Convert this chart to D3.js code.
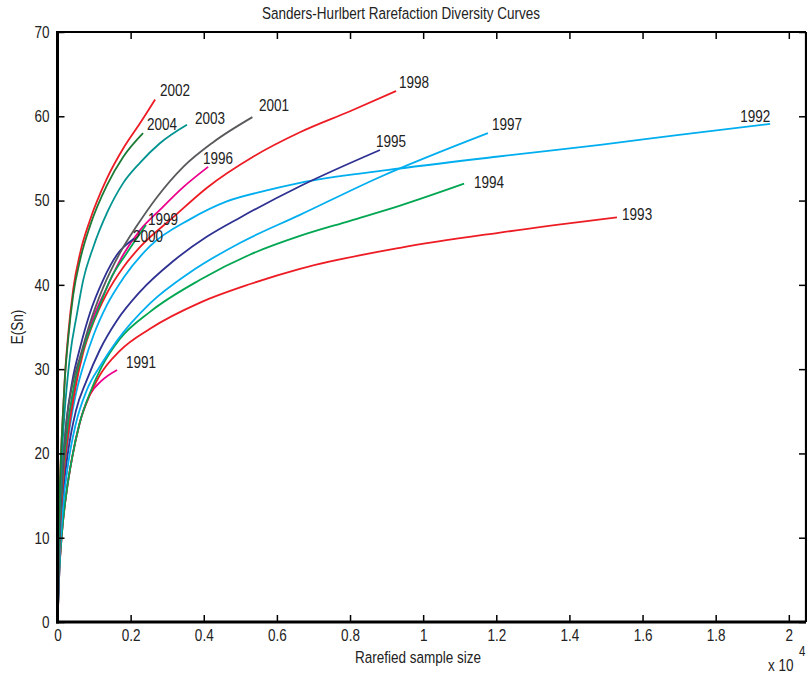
<!DOCTYPE html>
<html><head><meta charset="utf-8">
<script src="https://cdn.jsdelivr.net/npm/d3@7"></script>
<style>
body{margin:0;background:#fff;}
svg text{font-family:"Liberation Sans",Arial,sans-serif;fill:#222;}
</style></head><body>
<svg id="c" width="807" height="676"></svg>
<script>
// ---- data (x in units of 10^4 samples, y = E(Sn)) ----
const years = ["1991","1992","1993","1994","1995","1996","1997","1998","1999","2000","2001","2002","2003","2004"];
const colors = ["#ec008c","#00aeef","#ed1c24","#00a651","#2e3192","#ec008c","#00aeef","#ed1c24","#00a651","#2e3192","#58595b","#ed1c24","#00938f","#1b7a35"];
const s1991 = [[0,0],[0.005,6],[0.012,10.5],[0.025,15.5],[0.04,19.5],[0.06,23.5],[0.089,27],[0.12,28.6],[0.163,29.9]];
const s1992 = [[0,0],[0.006,9],[0.015,16],[0.03,22],[0.05,27],[0.075,31],[0.1,34.2],[0.135,37.6],[0.18,40.8],[0.253,44.6],[0.363,47.8],[0.463,49.9],[0.572,51.2],[0.663,52.1],[0.9,53.6],[1.2,55.2],[1.484,56.6],[1.7,57.8],[1.949,59.1]];
const s1993 = [[0,0],[0.005,6],[0.012,10.5],[0.025,15.5],[0.04,19.5],[0.06,23.5],[0.089,27],[0.116,29.3],[0.171,32.2],[0.253,34.8],[0.39,37.9],[0.527,40.1],[0.663,41.9],[0.937,44.4],[1.21,46.2],[1.53,48.0]];
const s1994 = [[0,0],[0.005,6],[0.012,10.5],[0.025,15.5],[0.04,19.5],[0.06,23.5],[0.089,27.2],[0.12,30.2],[0.171,33.6],[0.253,36.8],[0.39,40.6],[0.527,43.6],[0.663,45.8],[0.8,47.6],[0.937,49.4],[1.112,52.0]];
const s1995 = [[0,0],[0.005,8],[0.015,15],[0.03,20.5],[0.05,25],[0.08,28.7],[0.116,32.3],[0.163,35.8],[0.226,39.2],[0.316,42.8],[0.408,45.7],[0.5,48],[0.663,51.7],[0.882,56]];
const s1996 = [[0,0],[0.005,9.5],[0.013,16.5],[0.028,23],[0.05,28.5],[0.089,35],[0.135,39.7],[0.18,43.6],[0.226,46.5],[0.28,48.9],[0.344,51.6],[0.412,54.0]];
const s1997 = [[0,0],[0.006,7.5],[0.015,13.5],[0.03,19],[0.05,23.5],[0.08,27.5],[0.12,30.6],[0.163,33.4],[0.253,37.8],[0.363,41.5],[0.5,45.0],[0.663,48.3],[0.882,52.8],[1.177,58.0]];
const s1998 = [[0,0],[0.006,9.5],[0.015,16.5],[0.03,22.5],[0.05,28],[0.07,31.9],[0.098,35.5],[0.135,39],[0.18,42.1],[0.226,44.5],[0.316,48],[0.408,51.5],[0.535,55.2],[0.663,58.1],[0.8,60.6],[0.926,63.0]];
const s1999 = [[0,0],[0.005,9.5],[0.013,16.5],[0.027,23],[0.045,28],[0.07,32.3],[0.108,36.7],[0.144,40.6],[0.19,43.8],[0.242,47.1]];
const s2000 = [[0,0],[0.005,10],[0.012,17],[0.025,24],[0.04,28.5],[0.062,32.6],[0.089,36.7],[0.125,40.6],[0.163,43.6],[0.21,45.5]];
const s2001 = [[0,0],[0.005,10],[0.012,17],[0.025,24],[0.04,28],[0.062,31.5],[0.089,35.5],[0.125,39.7],[0.171,43.8],[0.217,47],[0.272,50.4],[0.344,54],[0.425,56.9],[0.533,59.9]];
const s2002 = [[0,0],[0.003,10],[0.008,18],[0.014,24],[0.02,29],[0.029,34],[0.043,39.5],[0.062,43.8],[0.089,47.7],[0.135,52.6],[0.18,56.2],[0.226,59.2],[0.267,62.0]];
const s2003 = [[0,0],[0.004,10],[0.01,18],[0.018,24],[0.034,31.5],[0.053,36.5],[0.07,40.5],[0.098,44.5],[0.135,48.5],[0.18,52.1],[0.226,54.5],[0.28,56.8],[0.354,59.0]];
const s2004 = [[0,0],[0.003,10],[0.008,18],[0.014,24],[0.02,28.8],[0.029,33.5],[0.043,38.8],[0.062,43],[0.089,47],[0.135,51.8],[0.18,55.2],[0.234,58.0]];
const seriesData = [s1991,s1992,s1993,s1994,s1995,s1996,s1997,s1998,s1999,s2000,s2001,s2002,s2003,s2004];
const labelX = [0.187,1.867,1.544,1.139,0.871,0.398,1.188,0.934,0.2475,0.2065,0.5512,0.2804,0.3761,0.2448];
const labelY = [30.84,60.02,48.4,52.19,57.06,55.04,59.07,64.06,47.8,45.79,61.33,63.11,59.79,59.07];
const xTicks = [0,0.2,0.4,0.6,0.8,1,1.2,1.4,1.6,1.8,2];
const xTickLabels = ["0","0.2","0.4","0.6","0.8","1","1.2","1.4","1.6","1.8","2"];
const yTicks = [0,10,20,30,40,50,60,70];

// ---- drawing ----
const svg = d3.select("#c");
const L=57.5, R=806, T=32, B=622;
const K = 0.82; // horizontal condensing of the font
const x = d3.scaleLinear().domain([0,2.047]).range([L,R]);
const y = d3.scaleLinear().domain([0,70]).range([B,T]);

function condense(sel){
  sel.each(function(){
    const t=d3.select(this);
    const xx=+(t.attr("x")||0), yy=+(t.attr("y")||0);
    const prev=t.attr("transform")||"";
    t.attr("x",null).attr("y",null).attr("transform",`${prev} translate(${xx},${yy}) scale(${K},1)`);
  });
}

const line = d3.line().x(d=>x(d[0])).y(d=>y(d[1])).curve(d3.curveMonotoneX);
svg.append("g").selectAll("path").data(seriesData).join("path")
  .attr("d", line).attr("fill","none")
  .attr("stroke",(d,i)=>colors[i]).attr("stroke-width",1.8)
  .attr("stroke-linejoin","round");

svg.append("g").selectAll("text").data(years).join("text")
  .attr("x",(d,i)=>x(labelX[i])).attr("y",(d,i)=>y(labelY[i]))
  .attr("dy","0.35em").attr("font-size",16.5).text(d=>d).call(condense);

function styleAxis(g){
  g.select(".domain").remove();
  g.selectAll(".tick line").attr("stroke","#000").attr("stroke-width",1.5);
  g.selectAll(".tick text").attr("font-size",16.5).attr("fill","#222")
    .attr("font-family",'"Liberation Sans",Arial,sans-serif').call(condense);
}
svg.append("g").attr("transform",`translate(0,${B})`)
  .call(d3.axisBottom(x).tickValues(xTicks).tickFormat((d,i)=>xTickLabels[i]).tickSizeInner(-7).tickSizeOuter(0).tickPadding(7))
  .call(styleAxis);
svg.append("g").attr("transform",`translate(0,${T})`)
  .call(d3.axisTop(x).tickValues(xTicks).tickFormat("").tickSizeInner(-7).tickSizeOuter(0))
  .call(styleAxis);
svg.append("g").attr("transform",`translate(${L},0)`)
  .call(d3.axisLeft(y).tickValues(yTicks).tickFormat(d3.format("d")).tickSizeInner(-7).tickSizeOuter(0).tickPadding(8))
  .call(styleAxis);
svg.append("g").attr("transform",`translate(${R},0)`)
  .call(d3.axisRight(y).tickValues(yTicks).tickFormat("").tickSizeInner(-7).tickSizeOuter(0))
  .call(styleAxis);

// frame
svg.append("line").attr("x1",L).attr("x2",R).attr("y1",T).attr("y2",T).attr("stroke","#000").attr("stroke-width",2.2);
svg.append("line").attr("x1",R).attr("x2",R).attr("y1",T).attr("y2",B).attr("stroke","#000").attr("stroke-width",2.2);
svg.append("line").attr("x1",L).attr("x2",L).attr("y1",T-1).attr("y2",B+1.5).attr("stroke","#000").attr("stroke-width",3);
svg.append("line").attr("x1",L-1.5).attr("x2",R).attr("y1",B).attr("y2",B).attr("stroke","#000").attr("stroke-width",3);

// titles
svg.append("text").attr("x",401).attr("y",19).attr("text-anchor","middle").attr("font-size",16.5)
  .text("Sanders-Hurlbert Rarefaction Diversity Curves").call(condense);
svg.append("text").attr("x",418).attr("y",663).attr("text-anchor","middle").attr("font-size",16.5)
  .text("Rarefied sample size").call(condense);
svg.append("text").attr("transform","translate(23,327) rotate(-90)").attr("text-anchor","middle").attr("font-size",16.5)
  .text("E(Sn)").call(condense);
svg.append("text").attr("x",768).attr("y",671).attr("font-size",16.5).text("x 10").call(condense);
svg.append("text").attr("x",799).attr("y",656).attr("font-size",14).text("4").call(condense);
</script>
</body></html>
